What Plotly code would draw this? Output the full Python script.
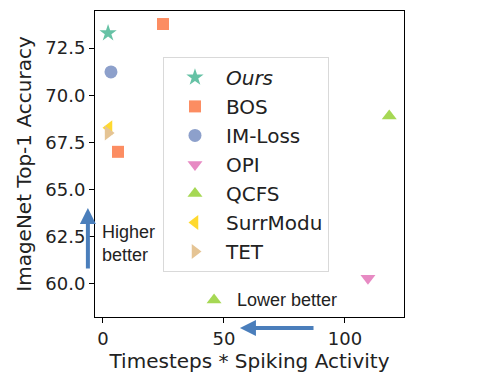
import plotly.graph_objects as go

# methods (legend order) and their points: timesteps * spiking activity vs top-1 accuracy
methods = ["<i>Ours</i>", "BOS", "IM-Loss", "OPI", "QCFS", "SurrModu", "TET"]
cost = {
    "<i>Ours</i>": [2.1],
    "BOS": [24.8, 6.2],
    "IM-Loss": [3.3],
    "OPI": [109.5],
    "QCFS": [118.3, 45.9],
    "SurrModu": [2.5],
    "TET": [2.1],
}
accuracy = {
    "<i>Ours</i>": [73.29],
    "BOS": [73.77, 67.0],
    "IM-Loss": [71.23],
    "OPI": [60.3],
    "QCFS": [68.9, 59.15],
    "SurrModu": [68.27],
    "TET": [68.0],
}
colors = ["#66c2a5", "#fc8d62", "#8da0cb", "#e78ac3", "#a6d854", "#ffd92f", "#e5c494"]
symbols = ["star", "square", "circle", "triangle-down", "triangle-up", "triangle-left", "triangle-right"]
sizes = [13, 12, 13, 13, 13, 13, 13]

fig = go.Figure()
for name, c, s, sz in zip(methods, colors, symbols, sizes):
    fig.add_trace(go.Scatter(
        x=cost[name], y=accuracy[name], mode="markers", name=name,
        marker=dict(color=c, symbol=s, size=sz, line=dict(width=0)),
    ))

arrow_col = "#4a7ebb"
# "higher better" arrow (left of the y axis) and "lower better" arrow (below the x axis)
fig.add_annotation(x=-0.023, y=0.356, ax=-0.023, ay=0.154, xref="x domain", yref="y domain",
                   axref="x domain", ayref="y domain", text="", showarrow=True,
                   arrowhead=2, arrowsize=0.8, arrowwidth=4, arrowcolor=arrow_col)
fig.add_annotation(x=0.469, y=-0.036, ax=0.712, ay=-0.036, xref="x domain", yref="y domain",
                   axref="x domain", ayref="y domain", text="", showarrow=True,
                   arrowhead=2, arrowsize=0.8, arrowwidth=4, arrowcolor=arrow_col)
fig.add_annotation(x=0.015, y=0.2386, xref="paper", yref="paper", text="Higher<br>better",
                   showarrow=False, xanchor="left", yanchor="middle", align="left",
                   font=dict(family="Liberation Sans, Arial", size=18, color="#222"))
fig.add_annotation(x=0.453, y=0.0556, xref="paper", yref="paper", text="Lower better",
                   showarrow=False, xanchor="left", yanchor="middle",
                   font=dict(family="Liberation Sans, Arial", size=18, color="#222"))

axis_common = dict(showline=True, mirror=True, linecolor="black", linewidth=1,
                   ticks="outside", ticklen=5, tickcolor="black", showgrid=False,
                   zeroline=False, automargin=False,
                   tickfont=dict(family="DejaVu Sans", size=18, color="#222"))
fig.update_xaxes(range=[-3.3, 124.4], tickvals=[0, 50, 100],
                 title=dict(text="Timesteps * Spiking Activity", standoff=6,
                            font=dict(family="DejaVu Sans", size=20, color="#222")),
                 **axis_common)
fig.update_yaxes(range=[58.25, 74.46], tickvals=[60, 62.5, 65, 67.5, 70, 72.5],
                 ticktext=["60.0", "62.5", "65.0", "67.5", "70.0", "72.5"],
                 title=dict(text="ImageNet Top-1 Accuracy", standoff=8,
                            font=dict(family="DejaVu Sans", size=20, color="#222")),
                 **axis_common)

# page body adds an 8px offset, so the figure is a little smaller than the window
fig.update_layout(
    width=494, height=373,
    margin=dict(l=87, r=98, t=3, b=64),
    plot_bgcolor="white", paper_bgcolor="white",
    legend=dict(x=0.22, y=0.85, xanchor="left", yanchor="top",
                bgcolor="rgba(255,255,255,0.9)", bordercolor="#d9d9d9", borderwidth=1,
                itemwidth=52, font=dict(family="DejaVu Sans", size=20, color="#222")),
)

fig.write_html("out.html")
